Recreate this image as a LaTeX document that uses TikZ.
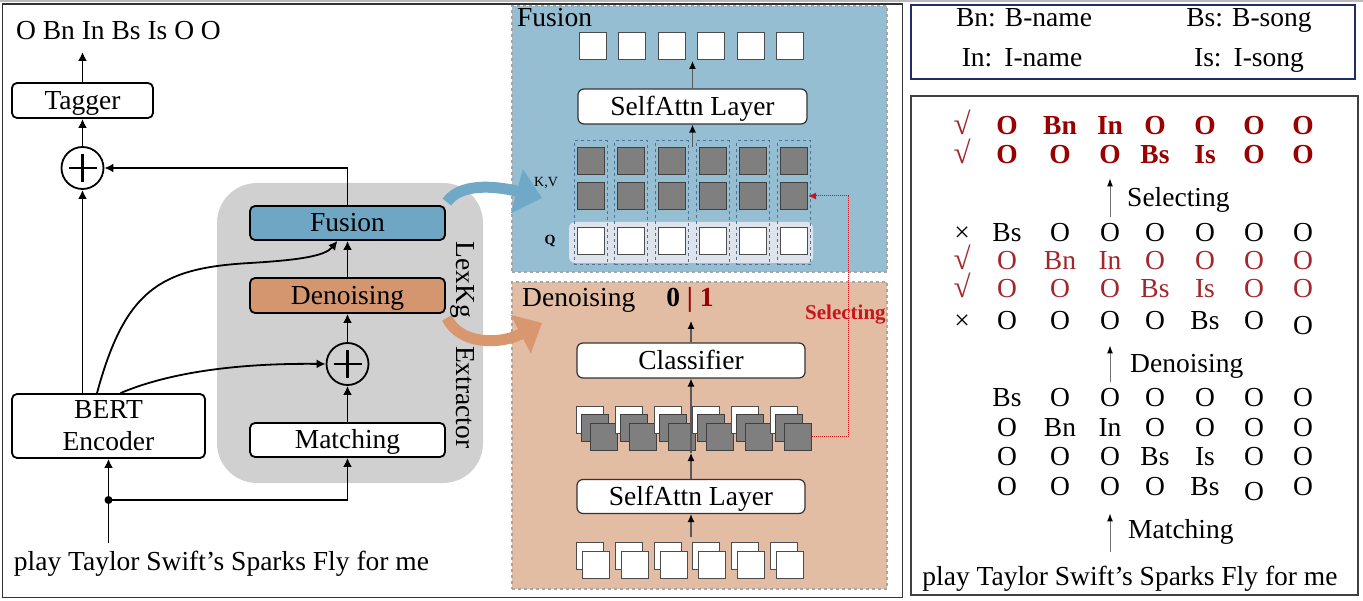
\documentclass[tikz,border=0pt]{standalone}
\usepackage{fontspec}
\setmainfont{Liberation Serif}
\usetikzlibrary{arrows.meta}
\definecolor{fusbg}{HTML}{95BED3}
\definecolor{fusbox}{HTML}{6EA6C4}
\definecolor{denbg}{HTML}{E3BCA4}
\definecolor{denbox}{HTML}{D4966F}
\definecolor{extr}{HTML}{D1D0D1}
\definecolor{qband}{HTML}{DEE3EC}
\definecolor{colline}{HTML}{4F7398}
\definecolor{sqgray}{HTML}{7F7F7F}
\definecolor{darkred}{HTML}{990000}
\definecolor{rowred}{HTML}{A3262B}
\definecolor{selred}{HTML}{C8161D}
\definecolor{bluearr}{HTML}{6FA9C7}
\definecolor{orarr}{HTML}{D9976F}
\definecolor{navy}{HTML}{1F2D6B}
\definecolor{panelline}{HTML}{A6A6A6}
\newcommand\gridrow[4]{%
  \foreach \t/\dy [count=\j] in {#4} {
    \pgfmathsetmacro\xx{{1007,1060,1110,1155,1205,1254,1303}[\j-1]}
    \node[#3, anchor=base] (#1c\j) at (\xx,#2+\dy) {\t};
  }}
\begin{document}
\begin{tikzpicture}[x=1pt,y=-1pt,
  every node/.style={inner sep=0pt, font=\fontsize{27.5}{31}\selectfont},
  rbox/.style={draw=black, line width=1.8pt, rounded corners=5pt, fill=white, align=center},
  box/.style={rbox, text height=18pt, text depth=0pt},
  pbox/.style={draw=black!80, line width=1.2pt, rounded corners=6pt, fill=white, text height=18pt, text depth=0pt, minimum width=228pt, minimum height=35pt},
  plus/.style={circle, draw, line width=1.8pt, minimum size=42pt,
    path picture={\draw[line width=2.8pt] (path picture bounding box.center) ++(-14,0) -- ++(28,0)
      (path picture bounding box.center) ++(0,-14) -- ++(0,28);}},
  arr/.style={line width=1.8pt, -{Latex[length=9pt,width=9pt]}},
  parr/.style={line width=1.2pt, draw=black!65, -{Latex[length=8pt,width=7pt,color=black]}},
  garr/.style={line width=1pt, draw=black!55, -{Latex[length=8pt,width=6pt,color=black]}},
  panel/.style={draw=panelline, dashed, line width=1.2pt, minimum width=375pt},
  sqw/.style={draw=black!70, line width=1pt, fill=white, minimum size=27pt},
  sqg/.style={draw=black!75, line width=1pt, fill=sqgray, minimum size=27pt},
  colbox/.style={draw=colline, dashed, line width=1pt, minimum width=33pt, minimum height=124pt},
  reddot/.style={draw=selred, densely dotted, line width=1pt, -{Latex[length=8pt,width=7pt]}},
  rowb/.style={font=\fontsize{27.5}{31}\selectfont\bfseries, text=darkred},
  rowr/.style={text=rowred},
  rowk/.style={text=black},
  chk/.style={font=\fontsize{31}{31}\selectfont, text=rowred}]
\useasboundingbox (0,0) rectangle (1363,601);
\fill[white] (0,0) rectangle (1363,601);
\fill[gray!55] (0,0) rectangle (1363,2.5);
\draw[line width=1.5pt, draw=black!80] (2.5,4) rectangle (902.5,597.5);

% ---------------- left part ----------------
\node[fill=extr, rounded corners=40pt, minimum width=266pt, minimum height=300pt] (ext) at (350,333) {};

\node[anchor=base] (out) at (118.5,40) {O Bn In Bs Is O O};
\coordinate (tagout) at (82.5,52);
\node[box, minimum width=141pt, minimum height=35pt] (tagger) at (82.5,100.5) {Tagger};
\node[plus] (p1) at (82.5,168) {};
\node[rbox, font=\fontsize{27.5}{32}\selectfont, minimum width=193pt, minimum height=64pt] (bert) at (108.5,426) {BERT\\Encoder};
\node[box, fill=fusbox, minimum width=195pt, minimum height=34pt] (fus) at (347.5,223) {Fusion};
\node[box, fill=denbox, minimum width=195pt, minimum height=35pt] (den) at (347.5,295.5) {Denoising};
\node[plus] (p2) at (347.5,364) {};
\node[box, minimum width=195pt, minimum height=34pt] (match) at (347.5,440) {Matching};
\coordinate (jn) at (108.5,500);
\coordinate (inup) at (108.5,543);
\node[anchor=base] (inp) at (221.5,570) {play Taylor Swift’s Sparks Fly for me};

\draw[arr] (tagger.north) -- (tagout);
\draw[arr] (p1) -- (tagger);
\draw[arr] (bert.north -| p1) -- (p1);
\draw[arr] (fus.north) |- (p1.east);
\draw[line width=1.8pt] (inup) -- (jn);
\fill (jn) circle (4pt);
\draw[arr] (jn) -- (bert);
\draw[arr] (jn) -| (match.south);
\draw[arr] (match) -- (p2);
\draw[arr] (p2) -- (den);
\draw[arr] (den) -- (fus);
\draw[arr] ([xshift=-11.5pt]bert.north) .. controls (125,290) and (160,268) .. (250,263)
   .. controls (300,260) and (325,256) .. ([xshift=-10pt]fus.south);
\draw[arr] ([xshift=12pt]bert.north) .. controls (170,372) and (240,363) .. (p2.west);

% ---------------- Fusion panel ----------------
\node[panel, fill=fusbg, minimum height=266pt] (fpanel) at (699.5,139) {};
\node[anchor=base west] (ftitle) at (517,27) {Fusion};
\foreach \i in {0,...,5} \node[sqw] (top\i) at (593+39.4*\i,46) {};
\coordinate (topin) at (692.5,61);
\node[pbox, minimum width=229pt] (sa1) at (692.5,106.5) {SelfAttn Layer};
\node[fill=qband, rounded corners=6pt, minimum width=244pt, minimum height=41pt] (qb) at (691,242.5) {};
\foreach \i in {0,...,5} {
  \node[colbox] (col\i) at (590.5+40.7*\i,203) {};
  \node[sqg] (kva\i) at (590.5+40.7*\i,161) {};
  \node[sqg] (kvb\i) at (590.5+40.7*\i,196) {};
  \node[sqw] (q\i) at (590.5+40.7*\i,241) {};
}
\node[anchor=base, font=\fontsize{14}{14}\selectfont] (kvl) at (546,187) {K,V};
\node[anchor=base, font=\fontsize{14}{14}\selectfont\bfseries] (ql) at (550,245) {Q};
\coordinate (kvtop) at (692.5,147);
\draw[parr] (kvtop) -- (sa1.south);
\draw[parr] (sa1.north) -- (topin);

% ---------------- Denoising panel ----------------
\node[panel, fill=denbg, minimum height=307pt] (dpanel) at (699.5,435.5) {};
\node[anchor=base west] (dtitle) at (522,307) {Denoising};
\node[anchor=base, font=\fontsize{27.5}{31}\selectfont\bfseries] (zo) at (690,307) {0 \textcolor{darkred}{| 1}};
\coordinate (zoin) at (691,321);
\node[pbox] (cls) at (691,360.5) {Classifier};
\foreach \i in {0,...,5} {
  \node[sqw] (dw\i) at (590+38.8*\i,420) {};
  \node[sqg] (dg\i) at (595+38.8*\i,428) {};
  \node[sqg] (df\i) at (604+38.8*\i,437) {};
}
\coordinate (stackbot) at (691,453);
\node[pbox, minimum height=34pt] (sa2) at (691,496.5) {SelfAttn Layer};
\foreach \i in {0,...,5} {
  \node[sqw] (bw\i) at (590+38.8*\i,556) {};
  \node[sqw] (bf\i) at (596+38.8*\i,565) {};
}
\coordinate (inbot) at (691,537);
\draw[parr] (cls.north) -- (zoin);
\draw[parr] (stackbot) -- (cls.south);
\draw[parr] (sa2.north) -- (stackbot);
\draw[parr] (inbot) -- (sa2.south);
\draw[reddot] (df5.east) -- (848,437) |- (kvb5.east);
\node[anchor=base west, text=selred, font=\fontsize{21}{24}\selectfont\bfseries] (selr) at (805,320) {Selecting};

% ---------------- curved block arrows ----------------
\coordinate (bluetip) at (542,198);
\coordinate (orangetip) at (542,323);
\draw[line width=11pt, draw=bluearr, -{Triangle[length=26pt,width=44pt]}]
  ([xshift=1pt,yshift=3pt]fus.north east) .. controls (462,180) and (505,188) .. (bluetip);
\draw[line width=11pt, draw=orarr, -{Triangle[length=24pt,width=42pt]}]
  ([xshift=1pt,yshift=-4pt]den.south east) .. controls (460,345) and (500,345) .. (orangetip);
\node[rotate=-90] (lexkg) at (463,345) {LexKg\hspace*{28pt}Extractor};

% ---------------- right: legend ----------------
\node[draw=navy, line width=1.5pt, minimum width=444pt, minimum height=74pt] (legend) at (1133,42) {};
\node[anchor=base] (lg1) at (1024,27) {Bn: B-name};
\node[anchor=base] (lg2) at (1249,27) {Bs: B-song};
\node[anchor=base] (lg3) at (1022,67) {In:\hspace{12pt}I-name};
\node[anchor=base] (lg4) at (1249,67) {Is:\hspace{12pt}I-song};

% ---------------- right: grid ----------------
\node[draw=black!75, line width=1.5pt, minimum width=447pt, minimum height=499pt] (gridbox) at (1134.5,345.5) {};
\node[chk, anchor=base] (k1) at (962,135) {√};
\gridrow{r1}{135}{rowb}{O/0,Bn/0,In/0,O/0,O/0,O/0,O/0}
\node[chk, anchor=base] (k2) at (962,164) {√};
\gridrow{r2}{164}{rowb}{O/0,O/0,O/0,Bs/0,Is/0,O/0,O/0}
\node[anchor=base west] (sel2) at (1127,207) {Selecting};
\node[anchor=base] (k3) at (962,242) {×};
\gridrow{r3}{242}{rowk}{Bs/0,O/0,O/0,O/0,O/0,O/0,O/0}
\node[chk, anchor=base] (k4) at (962,270) {√};
\gridrow{r4}{270}{rowr}{O/0,Bn/0,In/0,O/0,O/0,O/0,O/0}
\node[chk, anchor=base] (k5) at (962,298) {√};
\gridrow{r5}{298}{rowr}{O/0,O/0,O/0,Bs/0,Is/0,O/0,O/0}
\node[anchor=base] (k6) at (962,330) {×};
\gridrow{r6}{330}{rowk}{O/0,O/0,O/0,O/0,Bs/0,O/0,O/5}
\node[anchor=base west] (den2) at (1130,373) {Denoising};
\gridrow{r7}{407}{rowk}{Bs/0,O/0,O/0,O/0,O/0,O/0,O/0}
\gridrow{r8}{437}{rowk}{O/0,Bn/0,In/0,O/0,O/0,O/0,O/0}
\gridrow{r9}{465}{rowk}{O/0,O/0,O/0,Bs/0,Is/0,O/0,O/0}
\gridrow{r10}{495}{rowk}{O/0,O/0,O/0,O/0,Bs/0,O/5,O/0}
\node[anchor=base west] (mat2) at (1128,538) {Matching};
\node[anchor=base] (inp2) at (1130,585) {play Taylor Swift’s Sparks Fly for me};
\draw[garr, shorten <=7pt, shorten >=14pt] (r3c3.north) -- (r2c3.south);
\draw[garr, shorten <=7pt, shorten >=15pt] (r7c3.north) -- (r6c3.south);
\draw[garr, shorten <=13pt, shorten >=18pt] (r10c3.south |- inp2.north) -- (r10c3.south);
\end{tikzpicture}
\end{document}
